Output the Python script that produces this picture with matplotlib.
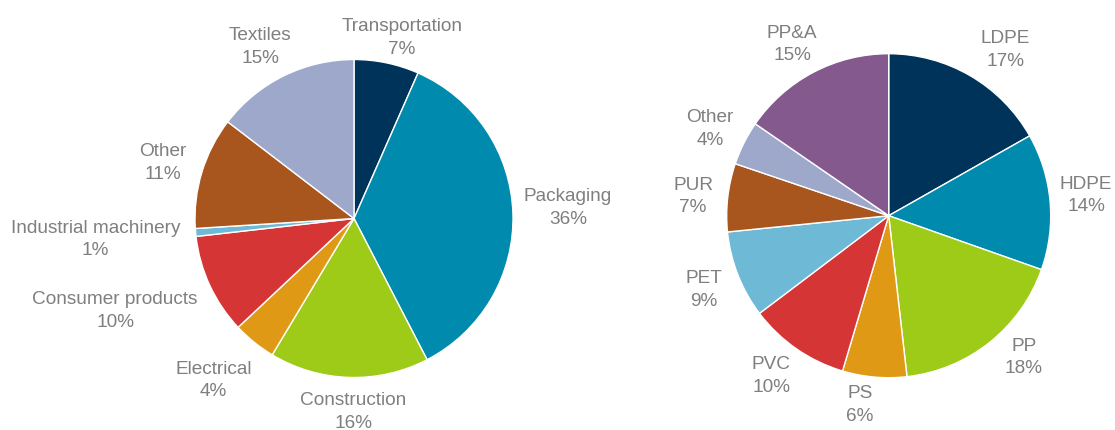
import matplotlib
matplotlib.use("Agg")
import matplotlib.pyplot as plt

# ---- data ----
use_labels = ["Transportation", "Packaging", "Construction", "Electrical",
              "Consumer products", "Industrial machinery", "Other", "Textiles"]
use_values = [6.6, 35.8, 16.2, 4.4, 10.2, 0.8, 11.4, 14.6]

poly_labels = ["LDPE", "HDPE", "PP", "PS", "PVC", "PET", "PUR", "Other", "PP&A"]
poly_values = [16.8, 13.6, 17.8, 6.4, 10.1, 8.7, 6.8, 4.4, 15.4]

# ---- styles ----
use_colors = ["#003359", "#008AAD", "#9DCB17", "#E09914",
              "#D63535", "#6DB9D6", "#A8551E", "#9EA8CB"]
poly_colors = ["#003359", "#008AAD", "#9DCB17", "#E09914", "#D63535",
               "#6DB9D6", "#A8551E", "#9EA8CB", "#845A8E"]

W, H = 1115, 431
left_center, left_radius = (354, H - 219.5), 159
right_center, right_radius = (888.7, H - 216.7), 162

# label anchor positions in pixel coords (x, y from top)
use_label_pos = [(402, 38), (568, 208), (353, 412), (213.5, 380.5),
                 (115, 311), (95.5, 239.5), (162.5, 163), (260, 47)]
poly_label_pos = [(1005, 50), (1086, 195.5), (1024, 357.5), (860, 405),
                  (771, 376.3), (704, 290), (693, 196.5), (710, 129), (792, 44.5)]

plt.rcParams['font.family'] = ['Liberation Sans', 'DejaVu Sans']

fig = plt.figure(figsize=(W / 100, H / 100), dpi=100)
ax = fig.add_axes([0, 0, 1, 1])

wp = dict(edgecolor="white", linewidth=1.0)
ax.pie(use_values, colors=use_colors, startangle=90, counterclock=False,
       center=left_center, radius=left_radius, wedgeprops=wp)
ax.pie(poly_values, colors=poly_colors, startangle=90, counterclock=False,
       center=right_center, radius=right_radius, wedgeprops=wp)

txt = dict(ha="center", va="center", fontsize=13.7, color="#7F7F7F",
           linespacing=1.45)
for lab, v, (x, y) in zip(use_labels, use_values, use_label_pos):
    ax.text(x, H - y, f"{lab}\n{v:.0f}%", **txt)
for lab, v, (x, y) in zip(poly_labels, poly_values, poly_label_pos):
    ax.text(x, H - y, f"{lab}\n{v:.0f}%", **txt)

ax.set_xlim(0, W)
ax.set_ylim(0, H)
ax.set_aspect("equal")
ax.axis("off")

fig.savefig("out.png", dpi=100)
